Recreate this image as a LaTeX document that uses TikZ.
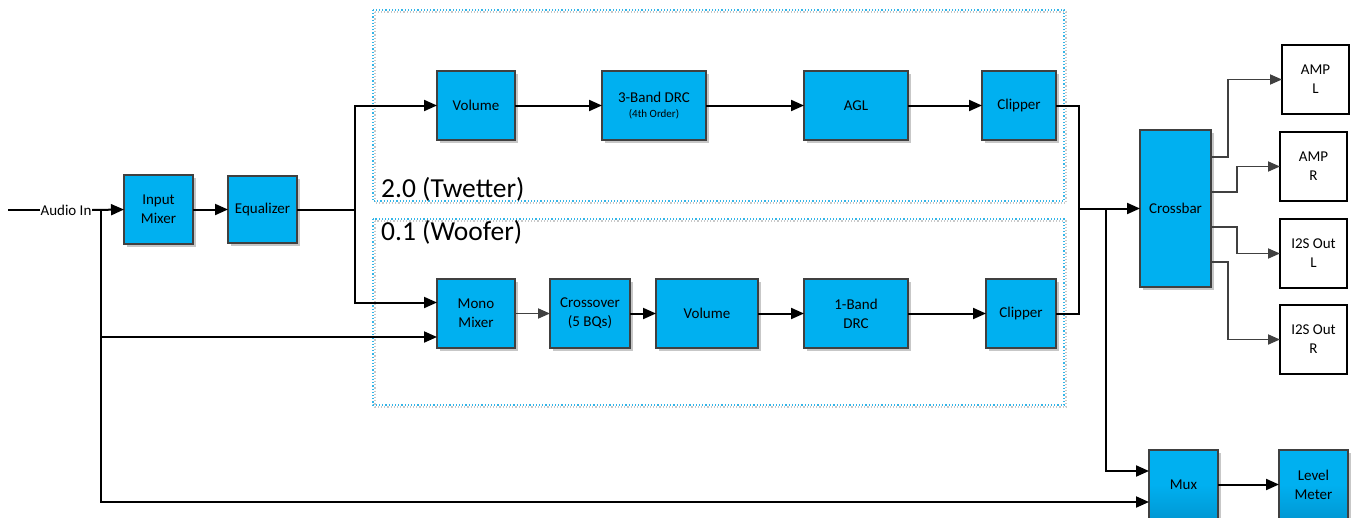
\documentclass[tikz,border=0pt]{standalone}
\usepackage{fontspec}
\setmainfont{Carlito}
\usetikzlibrary{arrows.meta,shadows}
\definecolor{boxblue}{HTML}{00B0F0}
\definecolor{boxblued}{HTML}{0098D4}
\definecolor{boxedge}{HTML}{404040}
\definecolor{grpblue}{HTML}{33B5E8}
\definecolor{grpgray}{HTML}{C8C8C8}
\tikzset{
  blk/.style={draw=boxedge, line width=1.6pt, fill=boxblue, inner sep=0pt, outer sep=0pt,
    align=center, font=\fontsize{15}{19}\selectfont,
    drop shadow={shadow xshift=3pt, shadow yshift=-3pt, fill=black!22, opacity=1}},
  gblk/.style={blk, top color=boxblue, bottom color=boxblued, middle color=boxblue},
  wblk/.style={draw=black, line width=1.3pt, fill=white, inner sep=0pt, outer sep=0pt,
    align=center, font=\fontsize{15}{19}\selectfont},
  arr/.style={line width=2pt, -{Triangle[length=13pt,width=11pt]}},
  garr/.style={line width=1.8pt, draw=boxedge, -{Triangle[length=12pt,width=10pt]}},
  ln/.style={line width=2pt},
  grpb/.style={draw=grpblue, line width=1.2pt, dotted},
  grpg/.style={draw=grpgray, line width=1.2pt, dotted},
}
\begin{document}
\begin{tikzpicture}[x=1pt,y=-1pt]
\useasboundingbox (0,0) rectangle (1351,517);
% groups
\draw[grpg] (375,12) rectangle (1066,203);
\draw[grpb] (373,10) rectangle (1064,201);
\draw[grpg] (375,221) rectangle (1066,407);
\draw[grpb] (373,219) rectangle (1064,405);
\node[anchor=west, inner sep=0pt, font=\fontsize{27.5}{30}\selectfont] (tw) at (381,189) {2.0 (Twetter)};
\node[anchor=west, inner sep=0pt, font=\fontsize{27.5}{30}\selectfont] (wf) at (381,232) {0.1 (Woofer)};
% blocks
\node[blk, minimum width=69, minimum height=69] (im) at (158.5,209.5) {Input\\Mixer};
\node[blk, minimum width=69, minimum height=67] (eq) at (262.5,209.5) {Equalizer};
\node[blk, minimum width=78, minimum height=69] (tvol) at (476,105.5) {Volume};
\node[blk, minimum width=104, minimum height=69] (tdrc) at (654,105.5) {3-Band DRC\\[-4pt]{\fontsize{11}{13}\selectfont (4th Order)}};
\node[blk, minimum width=104, minimum height=69] (tagl) at (856,105.5) {AGL};
\node[blk, minimum width=74, minimum height=69] (tclip) at (1019,105.5) {Clipper};
\node[blk, minimum width=78, minimum height=69] (mm) at (476,313.5) {Mono\\Mixer};
\node[blk, minimum width=80, minimum height=69] (xo) at (590,313.5) {Crossover\\(5 BQs)};
\node[blk, minimum width=102, minimum height=69] (wvol) at (707,313.5) {Volume};
\node[blk, minimum width=104, minimum height=69] (wdrc) at (856,313.5) {1-Band\\DRC};
\node[blk, minimum width=70, minimum height=69] (wclip) at (1021,313.5) {Clipper};
\node[blk, minimum width=71, minimum height=157] (xbar) at (1175.5,208.5) {Crossbar};
\node[wblk, minimum width=67, minimum height=69] (ampl) at (1315.5,79.5) {AMP\\L};
\node[wblk, minimum width=67, minimum height=69] (ampr) at (1313.5,166.5) {AMP\\R};
\node[wblk, minimum width=67, minimum height=69] (i2sl) at (1313.5,253.5) {I2S Out\\L};
\node[wblk, minimum width=67, minimum height=69] (i2sr) at (1313.5,339.5) {I2S Out\\R};
\node[gblk, minimum width=69, minimum height=69] (mux) at (1183.5,484.5) {Mux};
\node[gblk, minimum width=69, minimum height=69] (lm) at (1313.5,484.5) {Level\\Meter};
% audio in
\coordinate (src) at (8,210);
\node[inner sep=0.5pt, font=\fontsize{15}{19}\selectfont] (ain) at (66,210) {Audio In};
\coordinate (jA) at (101,210);
\coordinate (jB) at (101,337);
\draw[ln] (src) -- (ain.west);
\draw[arr] (ain.east) -- (im.west);
\draw[arr] (jA) |- ([yshift=-17.5pt]mux.west);
\draw[arr] (jB) -- (mm.west |- jB);
\draw[arr] (im.east) -- (eq.west);
% equalizer split
\coordinate (jE) at (355,209.5);
\draw[ln] (eq.east) -- (jE);
\draw[arr] (jE) |- (tvol.west);
\draw[arr] (jE) |- ([yshift=11pt]mm.west);
% tweeter chain
\draw[arr] (tvol) -- (tdrc);
\draw[arr] (tdrc) -- (tagl);
\draw[arr] (tagl) -- (tclip);
% woofer chain
\draw[garr] (mm) -- (xo);
\draw[arr] (xo) -- (wvol);
\draw[arr] (wvol) -- (wdrc);
\draw[arr] (wdrc) -- (wclip);
% merge to crossbar
\coordinate (jC) at (1079,208.5);
\coordinate (jM) at (1106,208.5);
\draw[ln] (tclip.east) -| (jC);
\draw[ln] (wclip.east) -| (jC);
\draw[arr] (jC) -- (xbar.west);
\draw[arr] (jM) |- ([yshift=13.5pt]mux.west);
\draw[arr] (mux) -- (lm);
% crossbar outputs
\draw[garr] ([yshift=51.5pt]xbar.east) -| ([xshift=-54pt]ampl.west) -- (ampl.west);
\draw[garr] ([yshift=16.5pt]xbar.east) -| ([xshift=-43pt]ampr.west) -- (ampr.west);
\draw[garr] ([yshift=-18.5pt]xbar.east) -| ([xshift=-43pt]i2sl.west) -- (i2sl.west);
\draw[garr] ([yshift=-53.5pt]xbar.east) -| ([xshift=-52pt]i2sr.west) -- (i2sr.west);
\end{tikzpicture}
\end{document}
